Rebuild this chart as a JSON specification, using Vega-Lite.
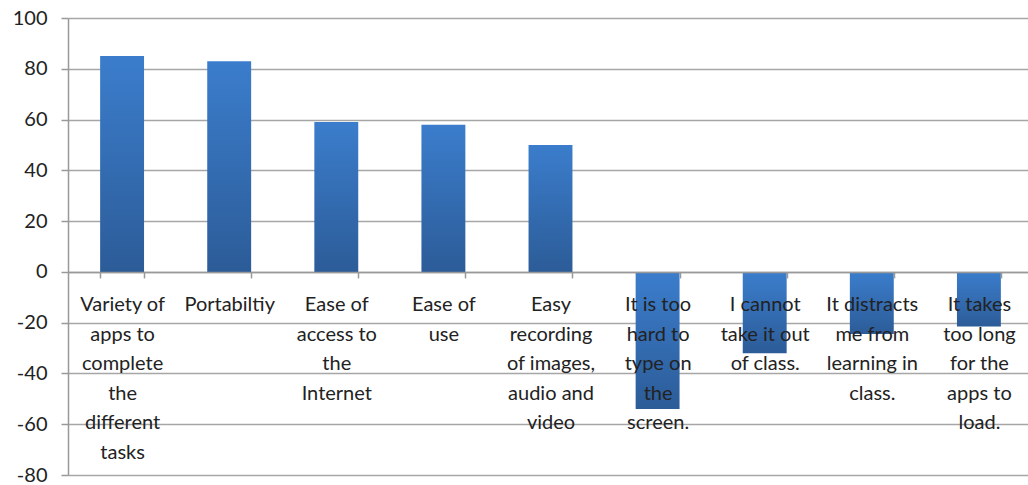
{
  "$schema": "https://vega.github.io/schema/vega-lite/v6.json",
  "autosize": {"type": "none"},
  "width": 965,
  "height": 457,
  "padding": {"left": 68, "top": 18, "right": 0, "bottom": 10},
  "background": "white",
  "config": {"view": {"stroke": null}, "font": "Lato"},
  "data": {
    "values": [
      {"item": "Variety of|apps to|complete|the|different|tasks", "value": 85},
      {"item": "Portabiltiy", "value": 83},
      {"item": "Ease of|access to|the|Internet", "value": 59},
      {"item": "Ease of|use", "value": 58},
      {"item": "Easy|recording|of images,|audio and|video", "value": 50},
      {"item": "It is too|hard to|type on|the|screen.", "value": -54},
      {"item": "I cannot|take it out|of class.", "value": -32},
      {"item": "It distracts|me from|learning in|class.", "value": -24.5},
      {"item": "It takes|too long|for the|apps to|load.", "value": -21.5}
    ]
  },
  "mark": {
    "type": "bar",
    "color": {
      "gradient": "linear", "x1": 0, "y1": 0, "x2": 0, "y2": 1,
      "stops": [{"offset": 0, "color": "#3b7dcc"}, {"offset": 1, "color": "#2c5c98"}]
    }
  },
  "encoding": {
    "x": {
      "field": "item", "type": "nominal", "sort": null,
      "scale": {"paddingInner": 0.59, "paddingOuter": 0.3},
      "axis": {
        "title": null, "orient": "bottom", "offset": -203.1,
        "labelExpr": "split(datum.label, '|')",
        "labelAngle": 0, "labelFontSize": 20, "labelLineHeight": 29.5,
        "labelColor": "#222", "labelPadding": 27, "labelLimit": 0,
        "labelOverlap": false, "labelBaseline": "middle",
        "tickBand": "extent", "tickSize": 6, "tickColor": "#999", "tickWidth": 1.5,
        "domainColor": "#999", "domainWidth": 1.5, "zindex": 1
      }
    },
    "y": {
      "field": "value", "type": "quantitative",
      "scale": {"domain": [-80, 100], "nice": false, "zero": true},
      "axis": {
        "title": null, "values": [-80, -60, -40, -20, 0, 20, 40, 60, 80, 100],
        "labelExpr": "datum.value < 0 ? '-' + abs(datum.value) : datum.label",
        "labelFontSize": 20, "labelColor": "#222", "labelPadding": 14,
        "tickSize": 7, "tickColor": "#999", "tickWidth": 1.5,
        "domainColor": "#999", "domainWidth": 1.5,
        "gridColor": "#a6a6a6", "gridWidth": 1.5, "gridOpacity": 1
      }
    }
  }
}
